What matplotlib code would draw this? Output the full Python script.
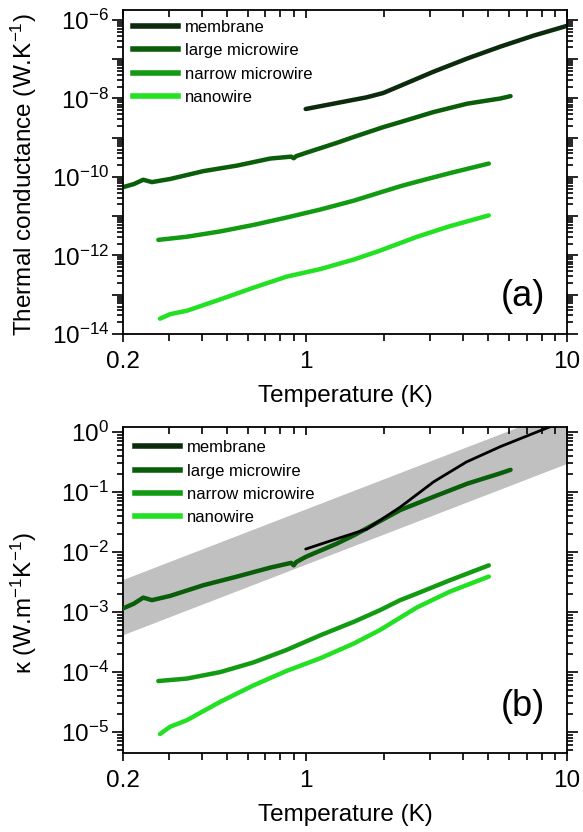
import numpy as np
import matplotlib
matplotlib.use("Agg")
import matplotlib.pyplot as plt
from matplotlib.ticker import FixedLocator, FuncFormatter, LogLocator, NullFormatter
from matplotlib.lines import Line2D

plt.rcParams['font.family'] = ['Liberation Sans', 'DejaVu Sans']
plt.rcParams['mathtext.default'] = 'regular'

# ---------------- data ----------------
series_names = ["membrane", "large microwire", "narrow microwire", "nanowire"]
series_colors = ["#0c2a0c", "#0a5e0a", "#129a12", "#22e022"]

# panel (a): thermal conductance (W/K)
mem_T_a = [1.0, 1.28, 1.71, 1.98, 2.30, 3.08, 4.16, 5.56, 7.45, 10.0]
mem_G_a = [5.4e-9, 7.4e-9, 1.07e-8, 1.38e-8, 2.1e-8, 4.8e-8, 1.05e-7, 2.1e-7, 4.0e-7, 7.1e-7]

large_T = [0.2, 0.22, 0.239, 0.258, 0.303, 0.406, 0.546, 0.732, 0.88, 0.9, 0.92,
           1.0, 1.315, 1.53, 1.98, 2.3, 3.08, 4.16, 5.56, 6.08]
large_G_a = [5.5e-11, 6.6e-11, 8.5e-11, 7.4e-11, 8.9e-11, 1.41e-10, 1.95e-10, 2.95e-10,
             3.3e-10, 3.0e-10, 3.4e-10, 4.1e-10, 7.4e-10, 1.05e-9, 1.86e-9, 2.5e-9,
             4.5e-9, 7.4e-9, 1.0e-8, 1.15e-8]

narrow_T = [0.273, 0.351, 0.471, 0.631, 0.847, 1.137, 1.53, 1.92, 2.30, 2.67, 3.57, 5.02]
narrow_G_a = [2.5e-12, 3.0e-12, 4.1e-12, 6.0e-12, 9.3e-12, 1.48e-11, 2.5e-11, 4.0e-11,
              5.8e-11, 7.6e-11, 1.26e-10, 2.2e-10]

nano_T = [0.277, 0.303, 0.351, 0.471, 0.631, 0.847, 1.137, 1.53, 1.92, 2.67, 3.57, 5.02]
nano_G_a = [2.45e-14, 3.2e-14, 3.9e-14, 7.6e-14, 1.51e-13, 2.9e-13, 4.5e-13, 7.9e-13,
            1.32e-12, 3.0e-12, 5.6e-12, 1.05e-11]

# panel (b): thermal conductivity kappa (W/m/K)
mem_T_b = [1.0, 1.27, 1.71, 2.30, 3.09, 4.12, 5.56, 7.45, 8.53, 10.0]
mem_k_b = [1.12e-2, 1.58e-2, 2.4e-2, 5.6e-2, 0.148, 0.316, 0.57, 0.95, 1.2, 1.48]

large_k_b = [1.15e-3, 1.38e-3, 1.74e-3, 1.58e-3, 1.86e-3, 2.8e-3, 3.9e-3, 5.5e-3,
             6.6e-3, 6.0e-3, 6.8e-3, 8.3e-3, 1.38e-2, 1.9e-2, 3.5e-2, 5.0e-2,
             8.3e-2, 0.138, 0.205, 0.234]

narrow_k_b = [7.1e-5, 7.8e-5, 1.0e-4, 1.45e-4, 2.35e-4, 4.1e-4, 6.9e-4, 1.07e-3,
              1.58e-3, 2.04e-3, 3.4e-3, 6.0e-3]

nano_k_b = [9.3e-6, 1.23e-5, 1.58e-5, 3.2e-5, 6.0e-5, 1.05e-4, 1.7e-4, 3.0e-4,
            5.0e-4, 1.2e-3, 2.2e-3, 3.9e-3]

band_T = [0.2, 10.0]
band_upper = [3.5e-3, 2.5]
band_lower = [4.2e-4, 0.30]

# ---------------- figure ----------------
fig = plt.figure(figsize=(5.83, 8.32), dpi=100)
ax1 = fig.add_axes([0.211, 0.5986, 0.7616, 0.3894])
ax2 = fig.add_axes([0.211, 0.0950, 0.7616, 0.3918])

LW = 3.2
FS = 17.5

def style_axes(ax, ylim, label_every):
    ax.set_xscale('log')
    ax.set_yscale('log')
    ax.set_xlim(0.2, 10)
    ax.set_ylim(*ylim)
    ax.xaxis.set_major_locator(FixedLocator([0.2, 1, 10]))
    ax.xaxis.set_major_formatter(FuncFormatter(lambda v, p: ('%g' % v)))
    ax.xaxis.set_minor_locator(FixedLocator([0.3, 0.4, 0.5, 0.6, 0.7, 0.8, 0.9,
                                             2, 3, 4, 5, 6, 7, 8, 9]))
    ax.xaxis.set_minor_formatter(NullFormatter())
    ax.yaxis.set_major_locator(LogLocator(base=10, numticks=30))
    ax.yaxis.set_minor_locator(LogLocator(base=10, subs=np.arange(2, 10), numticks=30))
    ax.yaxis.set_minor_formatter(NullFormatter())

    def yfmt(v, p):
        e = int(round(np.log10(v)))
        if e % label_every != 0:
            return ''
        return r'$10^{%d}$' % e
    ax.yaxis.set_major_formatter(FuncFormatter(yfmt))
    ax.tick_params(axis='x', which='both', direction='out', top=False, labelsize=FS,
                   width=1.2, pad=6)
    ax.tick_params(axis='x', which='major', length=6)
    ax.tick_params(axis='x', which='minor', length=5)
    ax.tick_params(axis='y', which='both', direction='out', left=True, right=True,
                   labelsize=FS, width=1.2, pad=2)
    ax.tick_params(axis='y', which='major', length=8)
    ax.tick_params(axis='y', which='minor', length=4)
    for s in ax.spines.values():
        s.set_linewidth(1.3)
    # top axis with inward ticks
    axt = ax.twiny()
    axt.set_xscale('log')
    axt.set_xlim(0.2, 10)
    axt.xaxis.set_major_locator(FixedLocator([0.2, 1, 10]))
    axt.xaxis.set_minor_locator(FixedLocator([0.3, 0.4, 0.5, 0.6, 0.7, 0.8, 0.9,
                                              2, 3, 4, 5, 6, 7, 8, 9]))
    axt.tick_params(axis='x', which='both', direction='in', labeltop=False, width=1.2)
    axt.tick_params(axis='x', which='major', length=6)
    axt.tick_params(axis='x', which='minor', length=5)
    axt.xaxis.set_minor_formatter(NullFormatter())
    for s in axt.spines.values():
        s.set_visible(False)

# panel (a)
ax1.plot(mem_T_a, mem_G_a, color=series_colors[0], lw=LW, solid_capstyle='round')
ax1.plot(large_T, large_G_a, color=series_colors[1], lw=LW, solid_capstyle='round')
ax1.plot(narrow_T, narrow_G_a, color=series_colors[2], lw=LW, solid_capstyle='round')
ax1.plot(nano_T, nano_G_a, color=series_colors[3], lw=LW, solid_capstyle='round')
style_axes(ax1, (1e-14, 1.8e-6), 2)
ax1.set_xlabel('Temperature (K)', fontsize=FS, labelpad=9)
ax1.set_ylabel('Thermal conductance (W.K$^{-1}$)', fontsize=FS)
ax1.yaxis.set_label_coords(-0.19, 0.49)
ax1.text(0.9, 0.117, '(a)', transform=ax1.transAxes, fontsize=26,
         ha='center', va='center')

# panel (b)
ax2.fill_between(band_T, band_lower, band_upper, color='#c0c0c0', lw=0, zorder=1)
ax2.plot(large_T, large_k_b, color=series_colors[1], lw=LW, solid_capstyle='round', zorder=3)
ax2.plot(mem_T_b, mem_k_b, color='black', lw=2.0, solid_capstyle='round', zorder=4)
ax2.plot(narrow_T, narrow_k_b, color=series_colors[2], lw=LW, solid_capstyle='round', zorder=3)
ax2.plot(nano_T, nano_k_b, color=series_colors[3], lw=LW, solid_capstyle='round', zorder=3)
style_axes(ax2, (4.5e-6, 1.21), 1)
ax2.set_xlabel('Temperature (K)', fontsize=FS, labelpad=9)
ax2.set_ylabel('κ (W.m$^{-1}$K$^{-1}$)', fontsize=FS)
ax2.yaxis.set_label_coords(-0.19, 0.46)
ax2.text(0.9, 0.144, '(b)', transform=ax2.transAxes, fontsize=26,
         ha='center', va='center')

handles = [Line2D([], [], color=c, lw=4) for c in series_colors]
ax1.legend(handles, series_names, loc='upper left', frameon=False, fontsize=12,
           handlelength=2.7, handletextpad=0.4, labelspacing=0.5,
           bbox_to_anchor=(0.0, 1.0), borderaxespad=0.3, borderpad=0.3)
ax2.legend(handles, series_names, loc='upper left', frameon=False, fontsize=12,
           handlelength=2.7, handletextpad=0.4, labelspacing=0.5,
           bbox_to_anchor=(0.005, 0.99), borderaxespad=0.3, borderpad=0.3)

fig.savefig('out.png', dpi=100)
